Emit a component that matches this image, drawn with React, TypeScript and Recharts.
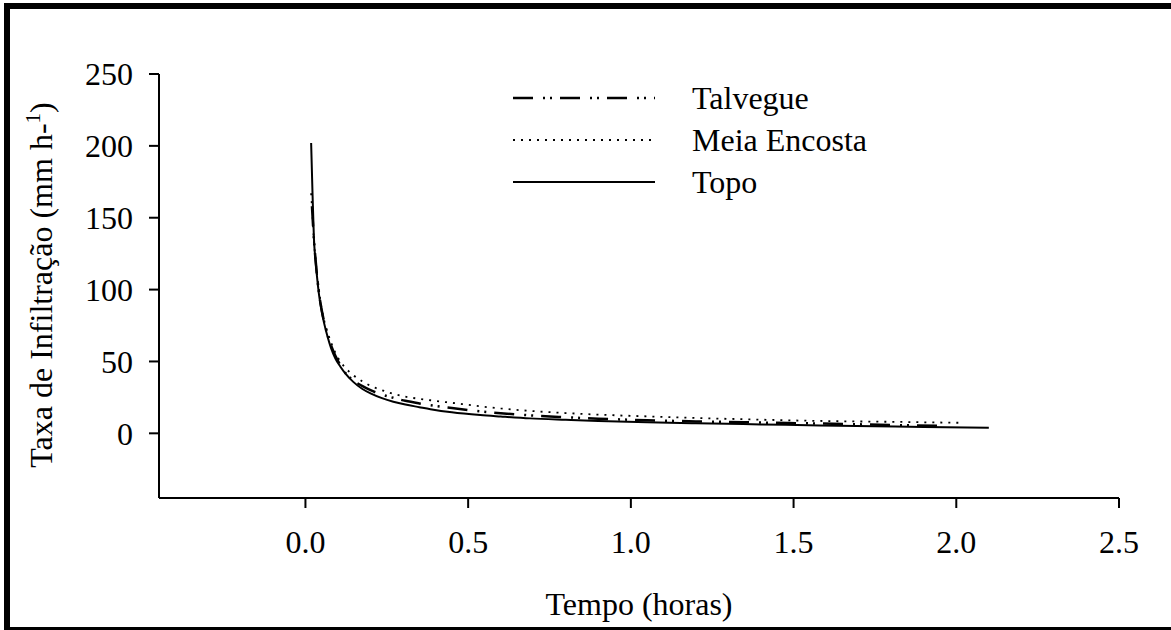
import React from "react";
import { LineChart, Line, XAxis, YAxis } from "recharts";

const talvegueTime = [0.02, 0.026, 0.031, 0.036, 0.042, 0.049, 0.057, 0.067, 0.079, 0.092, 0.107, 0.123, 0.147, 0.174, 0.2, 0.225, 0.27, 0.307, 0.35, 0.4, 0.45, 0.537, 0.6, 0.69, 0.8, 0.9, 1.05, 1.2, 1.4, 1.58, 1.8, 1.97];
const talvegueRate = [158, 135, 121, 109, 97, 87, 78, 69, 61, 54, 47.5, 42, 36.8, 33, 30, 27.7, 24.7, 22.6, 20.8, 19.1, 17.6, 15.3, 14.0, 12.5, 11.2, 10.2, 9.1, 8.3, 7.5, 6.8, 5.8, 5.2];

const meiaTime = [0.0175, 0.022, 0.026, 0.031, 0.036, 0.042, 0.049, 0.057, 0.067, 0.079, 0.092, 0.107, 0.123, 0.147, 0.174, 0.2, 0.235, 0.27, 0.307, 0.35, 0.384, 0.45, 0.537, 0.6, 0.69, 0.8, 0.9, 1.05, 1.2, 1.4, 1.58, 1.8, 2.02];
const meiaRate = [167, 150, 134, 121, 110, 99, 88, 79, 71, 63, 56, 50, 45.5, 40.5, 36.3, 33, 30, 27.5, 25.5, 24, 23, 21.2, 18.8, 17.3, 15.6, 14.1, 13, 11.8, 10.7, 9.5, 8.6, 8, 7.3];

const topoTime = [0.0175, 0.022, 0.026, 0.031, 0.036, 0.042, 0.049, 0.057, 0.067, 0.079, 0.092, 0.107, 0.123, 0.147, 0.174, 0.2, 0.235, 0.27, 0.307, 0.35, 0.384, 0.45, 0.537, 0.6, 0.69, 0.8, 0.9, 1.05, 1.2, 1.4, 1.58, 1.75, 1.9, 2.1];
const topoRate = [202, 165, 136, 120, 108, 96, 86, 77, 68, 59, 52, 46.5, 41.5, 35.8, 31, 27.8, 24.5, 22, 20, 18.2, 16.8, 14.6, 12.7, 11.7, 10.4, 9.4, 8.6, 7.7, 7.0, 6.2, 5.5, 4.9, 4.4, 3.9];

const xTicks = [0, 0.5, 1.0, 1.5, 2.0, 2.5];
const yTicks = [0, 50, 100, 150, 200, 250];
const seriesNames = ["Talvegue", "Meia Encosta", "Topo"];

const zip = (ts: number[], vs: number[]) => ts.map((t, i) => ({ t, v: vs[i] }));

const FONT = "'Liberation Serif', 'Times New Roman', serif";

const series = [
  { name: seriesNames[0], data: zip(talvegueTime, talvegueRate), dash: "20 10 2 5 2 8", width: 2.5 },
  { name: seriesNames[1], data: zip(meiaTime, meiaRate), dash: "2 6", width: 1.8 },
  { name: seriesNames[2], data: zip(topoTime, topoRate), dash: undefined as string | undefined, width: 2 },
];

const LegendBox = () => (
  <div style={{ position: "absolute", left: 513, top: 77, fontFamily: FONT, fontSize: 32, color: "#000" }}>
    {series.map((s) => (
      <div key={s.name} style={{ display: "flex", alignItems: "center", height: 42 }}>
        <svg width={142} height={10} style={{ display: "block" }}>
          <line x1={0} y1={5} x2={142} y2={5} stroke="#000" strokeWidth={s.width} strokeDasharray={s.dash} />
        </svg>
        <span style={{ marginLeft: 37, lineHeight: "42px", whiteSpace: "nowrap" }}>{s.name}</span>
      </div>
    ))}
  </div>
);

const YLabel = (props: any) => {
  const vb = props.viewBox || {};
  const x = (vb.x ?? 0) + 43;
  const y = (vb.y ?? 0) + (vb.height ?? 0) / 2 - 1;
  return (
    <text x={x} y={y} transform={`rotate(-90 ${x} ${y})`} textAnchor="middle" fontFamily={FONT} fontSize={32} fill="#000">
      Taxa de Infiltração (mm h-<tspan dy={-12} fontSize={21}>1</tspan><tspan dy={12}>)</tspan>
    </text>
  );
};

const XLabel = (props: any) => {
  const vb = props.viewBox || {};
  const x = (vb.x ?? 0) + (vb.width ?? 0) / 2;
  return (
    <text x={x} y={615} textAnchor="middle" fontFamily={FONT} fontSize={32} fill="#000">
      Tempo (horas)
    </text>
  );
};

export default function App() {
  return (
    <div style={{ position: "fixed", left: 0, top: 0, width: 1171, height: 630, background: "#fff" }}>
      <div
        style={{
          position: "absolute",
          left: 4,
          top: 3,
          width: 1167,
          height: 627,
          boxSizing: "border-box",
          borderTop: "6px solid #000",
          borderLeft: "6px solid #000",
          borderBottom: "3px solid #000",
        }}
      />
      <div style={{ position: "absolute", left: 0, top: 0 }}>
        <LineChart width={1171} height={630} margin={{ top: 74, right: 52, bottom: 72, left: 9 }}>
          <XAxis
            dataKey="t"
            type="number"
            domain={[-0.45, 2.5]}
            ticks={xTicks}
            tickFormatter={(v: number) => v.toFixed(1)}
            allowDataOverflow
            height={60}
            tickSize={10}
            tickMargin={22}
            stroke="#000"
            strokeWidth={2}
            tick={{ fill: "#000", fontFamily: FONT, fontSize: 32 }}
            label={<XLabel />}
          />
          <YAxis
            dataKey="v"
            type="number"
            domain={[-45, 250]}
            ticks={yTicks}
            allowDataOverflow
            width={150}
            tickSize={10}
            tickMargin={16}
            stroke="#000"
            strokeWidth={2}
            tick={{ fill: "#000", fontFamily: FONT, fontSize: 32 }}
            label={<YLabel />}
          />
          {series.map((s) => (
            <Line
              key={s.name}
              name={s.name}
              data={s.data}
              dataKey="v"
              type="monotone"
              stroke="#000"
              strokeWidth={s.width}
              strokeDasharray={s.dash}
              dot={false}
              activeDot={false}
              isAnimationActive={false}
            />
          ))}
        </LineChart>
      </div>
      <LegendBox />
    </div>
  );
}
